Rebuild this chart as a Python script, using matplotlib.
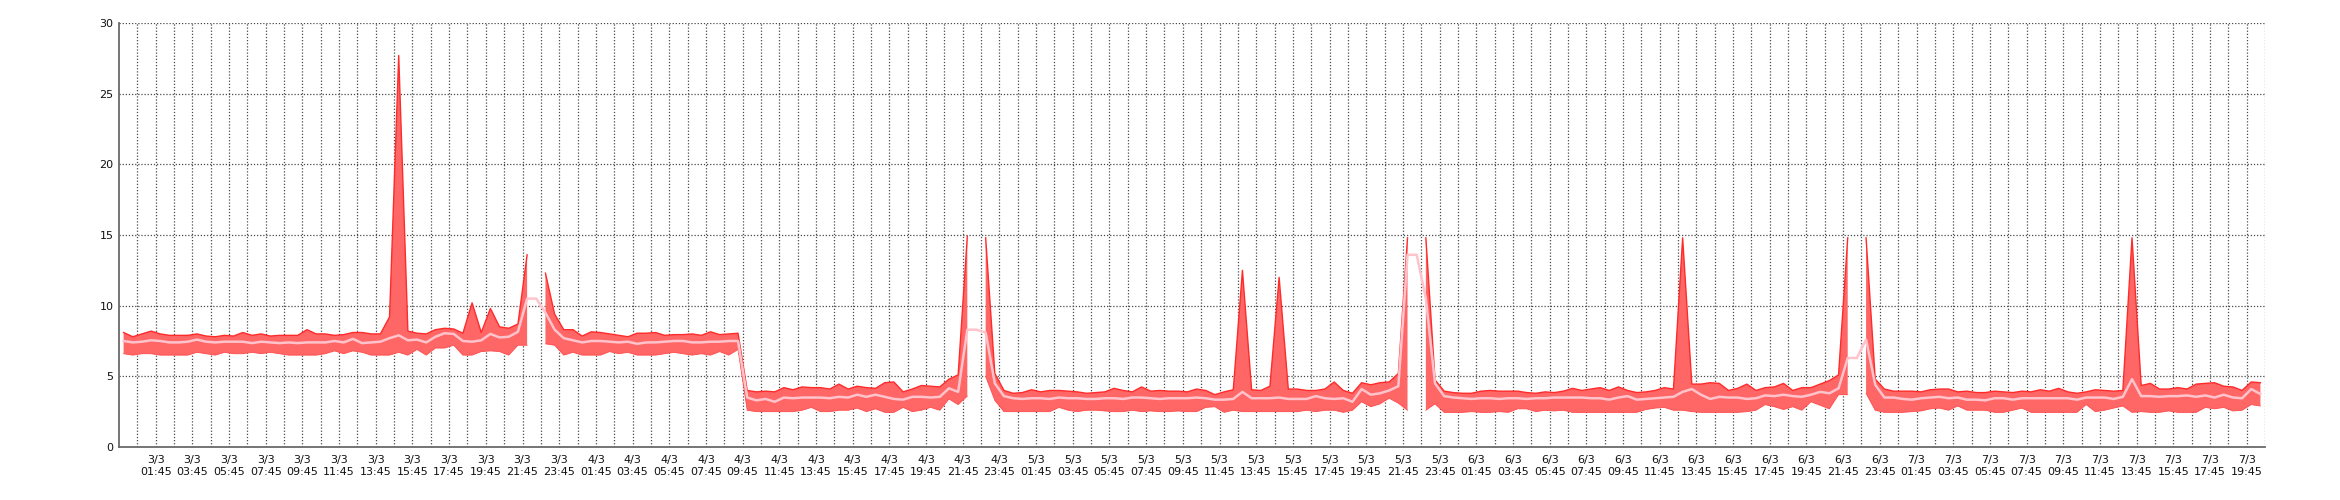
import numpy as np
import pandas as pd
import matplotlib
matplotlib.use("Agg")
import matplotlib.pyplot as plt

nan = np.nan

# samples every 30 min starting 3/3 00:00 (nan = no data for max/min)
max_vals = [
    8.1, 7.8, 8.0, 8.2, 8.0, 7.9, 7.9, 7.9, 8.0, 7.85, 7.8, 7.9, 7.85, 8.1, 7.9, 8.0, 7.85, 7.9, 7.9, 7.9, 8.3, 8.0, 8.0, 7.9,
    7.95, 8.1, 8.1, 8.0, 8.0, 9.2, 27.7, 8.2, 8.05, 8.0, 8.3, 8.4, 8.35, 8.05, 10.2, 8.1, 9.8, 8.5, 8.4, 8.7, 13.6, nan, 12.3, 9.4,
    8.3, 8.3, 7.85, 8.15, 8.1, 8.0, 7.9, 7.8, 8.05, 8.05, 8.1, 7.9, 7.95, 7.95, 8.0, 7.9, 8.15, 7.95, 8.0, 8.05, 4.0, 3.9, 3.95, 3.9,
    4.2, 4.05, 4.25, 4.2, 4.2, 4.1, 4.45, 4.1, 4.3, 4.2, 4.15, 4.55, 4.6, 3.9, 4.1, 4.35, 4.3, 4.25, 4.8, 5.1, 14.9, nan, 14.8, 5.2,
    4.0, 3.8, 3.85, 4.05, 3.9, 4.0, 4.0, 3.95, 3.9, 3.8, 3.85, 3.9, 4.15, 4.0, 3.9, 4.25, 3.95, 4.0, 3.95, 3.95, 3.9, 4.1, 4.0, 3.7,
    3.9, 4.05, 12.5, 4.05, 4.0, 4.3, 12.0, 4.1, 4.1, 4.0, 4.0, 4.1, 4.6, 4.0, 3.8, 4.55, 4.4, 4.55, 4.6, 5.2, 14.8, nan, 14.8, 4.75,
    3.95, 3.85, 3.8, 3.8, 3.95, 4.0, 3.95, 3.95, 3.95, 3.85, 3.8, 3.9, 3.85, 3.95, 4.15, 4.0, 4.1, 4.2, 4.0, 4.25, 4.0, 3.85, 3.9, 4.0,
    4.2, 4.1, 14.8, 4.45, 4.45, 4.55, 4.5, 4.0, 4.15, 4.45, 4.0, 4.2, 4.25, 4.5, 4.0, 4.2, 4.2, 4.45, 4.7, 5.1, 14.8, nan, 14.8, 4.8,
    4.1, 3.95, 3.95, 3.95, 3.9, 4.05, 4.1, 4.1, 3.9, 3.95, 3.85, 3.85, 3.95, 3.9, 3.85, 3.95, 3.9, 4.05, 3.95, 4.15, 3.9, 3.8, 3.9, 4.05,
    4.0, 3.95, 4.0, 14.8, 4.35, 4.5, 4.1, 4.1, 4.2, 4.1, 4.45, 4.5, 4.55, 4.3, 4.25, 4.0, 4.6, 4.55,
]
min_vals = [
    6.6, 6.5, 6.6, 6.6, 6.5, 6.5, 6.5, 6.5, 6.7, 6.6, 6.5, 6.7, 6.6, 6.6, 6.7, 6.6, 6.7, 6.6, 6.5, 6.5, 6.5, 6.5, 6.6, 6.8,
    6.6, 6.8, 6.7, 6.5, 6.5, 6.5, 6.7, 6.5, 6.9, 6.5, 7.0, 7.0, 7.2, 6.5, 6.5, 6.75, 6.8, 6.75, 6.5, 7.2, 7.2, nan, 7.3, 7.2,
    6.5, 6.7, 6.5, 6.5, 6.5, 6.75, 6.6, 6.7, 6.5, 6.5, 6.5, 6.6, 6.7, 6.6, 6.5, 6.6, 6.5, 6.75, 6.5, 6.9, 2.6, 2.5, 2.5, 2.5,
    2.5, 2.5, 2.6, 2.8, 2.5, 2.5, 2.6, 2.6, 2.75, 2.5, 2.7, 2.45, 2.45, 2.8, 2.5, 2.6, 2.8, 2.6, 3.4, 3.0, 3.6, nan, 5.0, 3.3,
    2.5, 2.5, 2.5, 2.5, 2.5, 2.5, 2.8, 2.6, 2.5, 2.6, 2.6, 2.55, 2.5, 2.5, 2.6, 2.5, 2.55, 2.5, 2.5, 2.55, 2.5, 2.5, 2.8, 2.85,
    2.45, 2.6, 2.5, 2.5, 2.5, 2.5, 2.5, 2.5, 2.5, 2.6, 2.5, 2.6, 2.6, 2.45, 2.6, 3.2, 2.85, 3.05, 3.45, 3.1, 2.6, nan, 2.6, 3.05,
    2.45, 2.45, 2.45, 2.5, 2.45, 2.45, 2.5, 2.45, 2.7, 2.7, 2.5, 2.6, 2.55, 2.6, 2.45, 2.45, 2.45, 2.45, 2.45, 2.45, 2.45, 2.45, 2.65, 2.75,
    2.8, 2.6, 2.6, 2.5, 2.45, 2.45, 2.45, 2.45, 2.45, 2.5, 2.6, 3.0, 2.85, 2.65, 2.85, 2.6, 3.2, 2.95, 2.7, 3.7, 3.7, nan, 3.8, 2.6,
    2.45, 2.45, 2.45, 2.5, 2.55, 2.7, 2.75, 2.6, 2.9, 2.6, 2.6, 2.6, 2.45, 2.45, 2.6, 2.75, 2.45, 2.45, 2.45, 2.45, 2.45, 2.45, 3.0, 2.5,
    2.6, 2.75, 2.9, 2.45, 2.5, 2.45, 2.45, 2.55, 2.45, 2.45, 2.45, 2.8, 2.7, 2.8, 2.55, 2.6, 3.0, 2.9,
]
avg_vals = [
    7.5, 7.4, 7.45, 7.55, 7.5, 7.4, 7.4, 7.45, 7.6, 7.45, 7.4, 7.45, 7.45, 7.45, 7.35, 7.45, 7.4, 7.35, 7.4, 7.35, 7.4, 7.4, 7.4, 7.5,
    7.4, 7.65, 7.35, 7.4, 7.45, 7.7, 7.9, 7.55, 7.6, 7.4, 7.8, 8.05, 8.0, 7.5, 7.45, 7.55, 8.0, 7.75, 7.8, 8.15, 10.5, 10.5, 9.5, 8.3,
    7.7, 7.55, 7.4, 7.5, 7.5, 7.45, 7.4, 7.45, 7.3, 7.4, 7.4, 7.45, 7.5, 7.5, 7.4, 7.4, 7.45, 7.45, 7.5, 7.5, 3.5, 3.3, 3.4, 3.2,
    3.5, 3.45, 3.5, 3.5, 3.5, 3.45, 3.55, 3.5, 3.7, 3.55, 3.7, 3.55, 3.4, 3.35, 3.55, 3.55, 3.5, 3.55, 4.15, 3.9, 8.3, 8.3, 8.1, 4.5,
    3.6, 3.45, 3.4, 3.45, 3.45, 3.4, 3.5, 3.45, 3.45, 3.4, 3.4, 3.45, 3.45, 3.4, 3.5, 3.5, 3.45, 3.4, 3.45, 3.45, 3.45, 3.5, 3.45, 3.35,
    3.35, 3.4, 3.9, 3.45, 3.45, 3.45, 3.5, 3.4, 3.4, 3.4, 3.6, 3.45, 3.4, 3.45, 3.2, 4.1, 3.7, 3.8, 4.0, 4.3, 13.6, 13.6, 10.5, 4.5,
    3.6, 3.5, 3.45, 3.4, 3.45, 3.45, 3.4, 3.45, 3.45, 3.4, 3.45, 3.45, 3.5, 3.5, 3.5, 3.5, 3.45, 3.45, 3.35, 3.5, 3.6, 3.35, 3.4, 3.45,
    3.5, 3.55, 3.9, 4.1, 3.7, 3.4, 3.55, 3.5, 3.5, 3.4, 3.45, 3.65, 3.6, 3.7, 3.6, 3.55, 3.7, 3.9, 3.8, 4.15, 6.3, 6.3, 7.6, 4.4,
    3.5, 3.5, 3.4, 3.35, 3.45, 3.5, 3.55, 3.45, 3.5, 3.35, 3.35, 3.3, 3.45, 3.45, 3.35, 3.45, 3.45, 3.45, 3.45, 3.45, 3.45, 3.35, 3.5, 3.5,
    3.5, 3.4, 3.55, 4.8, 3.6, 3.6, 3.55, 3.6, 3.6, 3.65, 3.55, 3.65, 3.5, 3.7, 3.5, 3.45, 4.1, 3.75,
]

y_ticks = [0, 5, 10, 15, 20, 25, 30]

start = pd.Timestamp("2024-03-03 00:00")
times = pd.date_range(start, periods=len(max_vals), freq="30min").to_pydatetime()
grid_times = pd.date_range("2024-03-02 23:45", "2024-03-07 20:45", freq="1h").to_pydatetime()
label_times = grid_times[2::2]
tick_labels = [f"{t.day}/{t.month}\n{t:%H:%M}" for t in label_times]

fig = plt.figure(figsize=(23.4, 5), dpi=100)
ax = fig.add_axes([119 / 2340, 53 / 500, 2146 / 2340, 424 / 500])

# band between min and max, then avg line on top
ax.fill_between(times, min_vals, max_vals, color="#ff6666", lw=0, zorder=2)
ax.plot(times, max_vals, color="#ff2b2b", lw=1, zorder=3)
ax.plot(times, min_vals, color="#ff4a4a", lw=0.6, zorder=3)
ax.plot(times, avg_vals, color="#ffc3cc", lw=1.8, zorder=4)

ax.set_xlim(grid_times[0], grid_times[-1])
ax.set_ylim(0, 30)
ax.set_yticks(y_ticks)
ax.set_xticks(label_times)
ax.set_xticklabels(tick_labels)
ax.set_xticks(grid_times[1::2], minor=True)

ax.grid(True, which="both", axis="x", color="#4a4a4a", ls=(0, (1, 1.5)), lw=0.9, zorder=0)
ax.grid(True, which="major", axis="y", color="#4a4a4a", ls=(0, (1, 1.5)), lw=0.9, zorder=0)
ax.set_axisbelow(True)

ax.tick_params(which="both", length=0)
ax.tick_params(axis="x", labelsize=8, pad=6, colors="#111111")
ax.tick_params(axis="y", labelsize=8, pad=4, colors="#111111")

for s in ["top", "right"]:
    ax.spines[s].set_visible(False)
for s in ["left", "bottom"]:
    ax.spines[s].set_color("#6a6a6a")
    ax.spines[s].set_linewidth(1.3)

fig.savefig("out.png", dpi=100)
